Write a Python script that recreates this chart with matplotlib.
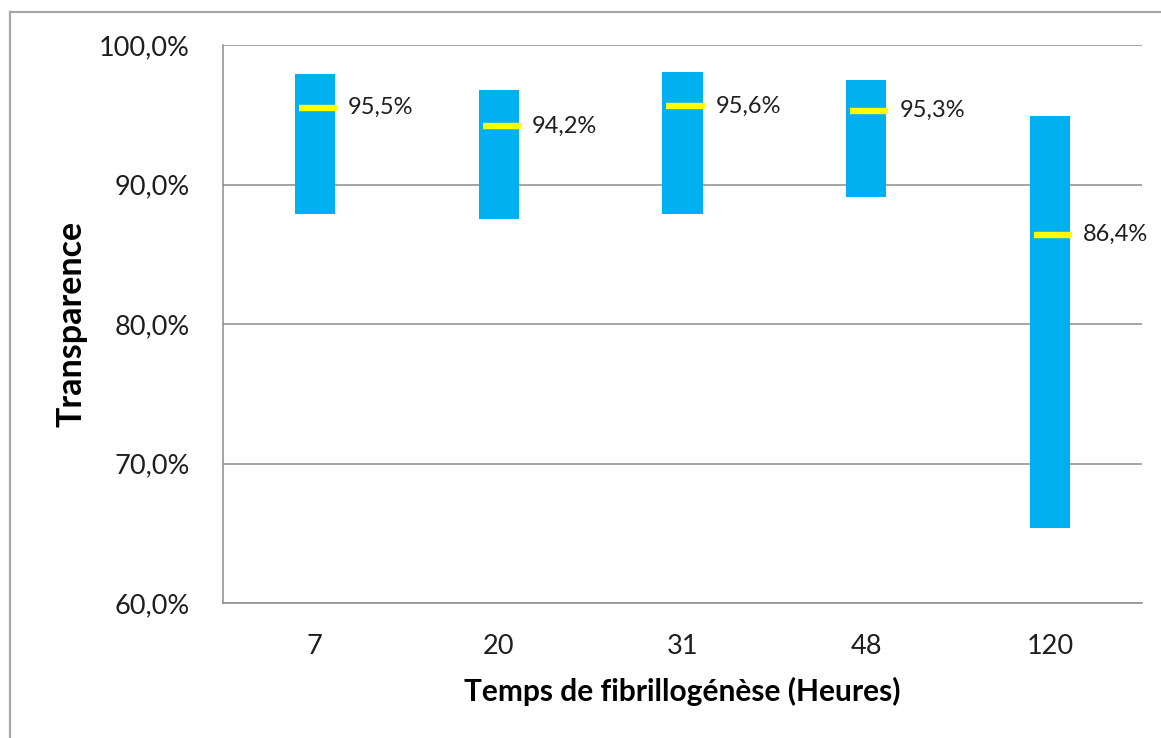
import matplotlib
matplotlib.use("Agg")
import matplotlib.pyplot as plt
from matplotlib.lines import Line2D
from matplotlib.ticker import FuncFormatter

# Transparency range (min-max) and mean per fibrillogenesis time
hours = ["7", "20", "31", "48", "120"]
trans_min = [87.9, 87.5, 87.9, 89.1, 65.4]
trans_max = [97.9, 96.8, 98.1, 97.5, 94.9]
trans_mean = [95.5, 94.2, 95.6, 95.3, 86.4]

BAR_CLR = "#00B0F0"
MEAN_CLR = "#FFFF00"
TXT_CLR = "#1e1e1e"
GRID_CLR = "#8c8c8c"

plt.rcParams["font.family"] = ["Lato", "DejaVu Sans"]

fig = plt.figure(figsize=(11.61, 7.38), dpi=100)
ax = fig.add_axes([0.1921, 0.1829, 0.7915, 0.7561])

x = list(range(len(hours)))
heights = [hi - lo for lo, hi in zip(trans_min, trans_max)]
ax.bar(x, heights, bottom=trans_min, width=0.218, color=BAR_CLR, zorder=3)

for i, m in enumerate(trans_mean):
    ax.hlines(m, i - 0.088, i + 0.12, color=MEAN_CLR, lw=4.6, zorder=4)
    ax.annotate(f"{m:.1f}%".replace(".", ","), (i + 0.109, m),
                xytext=(9.5, 0), textcoords="offset points",
                ha="left", va="center", fontsize=17, color=TXT_CLR)

ax.set_xlim(-0.5, 4.5)
ax.set_ylim(60, 100)
ax.set_yticks([60, 70, 80, 90, 100])
ax.yaxis.set_major_formatter(FuncFormatter(lambda v, _: f"{v:.1f}%".replace(".", ",")))
ax.set_xticks(x)
ax.set_xticklabels(hours)
ax.tick_params(axis="both", length=0, labelsize=19.5, colors=TXT_CLR)
ax.tick_params(axis="y", pad=24)
ax.tick_params(axis="x", pad=22)

ax.grid(axis="y", color=GRID_CLR, lw=1.1, zorder=0)
for side in ("top", "right"):
    ax.spines[side].set_visible(False)
for side in ("left", "bottom"):
    ax.spines[side].set_color(GRID_CLR)
    ax.spines[side].set_linewidth(1.1)

ax.set_ylabel("Transparence", fontsize=24.5, fontweight="bold", color="black", labelpad=8)
ax.set_xlabel("Temps de fibrillogénèse (Heures)", fontsize=21.5, fontweight="bold",
              color="black", labelpad=13)

# chart-area frame (top and left edges)
W, H = 1161, 738
fig.add_artist(Line2D([10 / W, 1.0], [1 - 12 / H, 1 - 12 / H], color="#a6a6a6", lw=1.6,
                      transform=fig.transFigure))
fig.add_artist(Line2D([10 / W, 10 / W], [1 - 12 / H, 0.0], color="#a6a6a6", lw=1.6,
                      transform=fig.transFigure))

fig.savefig("out.png", dpi=100)
